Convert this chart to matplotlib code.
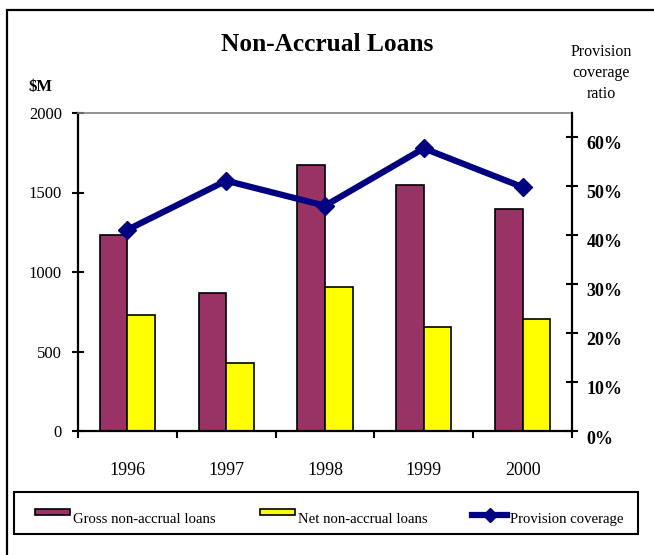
import matplotlib
matplotlib.use("Agg")
import matplotlib.pyplot as plt
from matplotlib.patches import Rectangle, Patch
from matplotlib.lines import Line2D
from matplotlib.legend_handler import HandlerPatch, HandlerLine2D
from matplotlib.ticker import FuncFormatter, FixedLocator
from matplotlib.transforms import ScaledTranslation
import numpy as np

years = ["1996", "1997", "1998", "1999", "2000"]
gross_loans = [1235, 870, 1675, 1547, 1398]
net_loans = [731, 430, 906, 656, 706]
coverage_pct = [41.0, 51.0, 45.9, 57.6, 49.7]

gross_color = "#993366"
net_color = "#FFFF00"
line_color = "#000080"

plt.rcParams["font.family"] = ["Liberation Serif", "DejaVu Serif"]

W, H = 654, 555
fig = plt.figure(figsize=(W / 100, H / 100), dpi=100)


def px(v):
    return v / W


def py(v):
    return 1 - v / H


# outer frame of the chart area
fig.patches.append(Rectangle((px(7), -0.2), 1.5, 1.2 - 10 / H, transform=fig.transFigure,
                             fill=False, edgecolor="black", linewidth=1.6))

ax = fig.add_axes([px(78), py(431), (572 - 78) / W, (431 - 113) / H])
x = np.arange(len(years))
bw = 0.28
ax.bar(x - bw / 2, gross_loans, bw, color=gross_color, edgecolor="black", linewidth=1.2, zorder=2)
ax.bar(x + bw / 2, net_loans, bw, color=net_color, edgecolor="black", linewidth=1.2, zorder=2)

ax.set_xlim(-0.5, len(years) - 0.5)
ax.set_ylim(0, 2000)
ax.set_yticks([0, 500, 1000, 1500, 2000])
ax.tick_params(axis="y", direction="inout", length=9, width=1.5, labelsize=12, pad=7)
ax.xaxis.set_major_locator(FixedLocator(np.arange(-0.5, len(years), 1.0)))
ax.xaxis.set_major_formatter(FuncFormatter(lambda v, p: ""))
ax.xaxis.set_minor_locator(FixedLocator(x))
ax.set_xticklabels(years, minor=True)
ax.tick_params(axis="x", which="major", direction="out", length=5, width=1.5)
ax.tick_params(axis="x", which="minor", length=0, labelsize=13, pad=22)

for s in ["left", "bottom"]:
    ax.spines[s].set_linewidth(1.6)
ax.spines["top"].set_color("#808080")
ax.spines["top"].set_linewidth(1.2)
ax.spines["right"].set_visible(False)

ax2 = ax.twinx()
ax2.plot(x, coverage_pct, color=line_color, linewidth=4.5, marker="D", markersize=9, zorder=3)
ax2.set_ylim(0, 64.8)
ax2.set_yticks([0, 10, 20, 30, 40, 50, 60])
ax2.yaxis.set_major_formatter(FuncFormatter(lambda v, p: f"{v:.0f}%"))
ax2.tick_params(axis="y", direction="inout", length=9, width=1.5, labelsize=13, pad=6)
shift_down = ScaledTranslation(0, -6 / 100, fig.dpi_scale_trans)
for t in ax2.yaxis.get_major_ticks():
    t.label2.set_fontweight("bold")
    t.label2.set_transform(t.label2.get_transform() + shift_down)
for s in ["left", "bottom", "top"]:
    ax2.spines[s].set_visible(False)
ax2.spines["right"].set_linewidth(1.6)

fig.text(px(327), py(51), "Non-Accrual Loans", ha="center", va="baseline",
         fontsize=18.3, fontweight="bold")
fig.text(px(40), py(90.5), "$M", ha="center", va="baseline", fontsize=12, fontweight="bold")
fig.text(px(601), py(73), "Provision\ncoverage\nratio", ha="center", va="center",
         fontsize=11.5, linespacing=1.45)

# legend: keys sit above the label baseline, inside a plain box
key_bottom, key_height, key_mid = 6.1, 4.3, 8.3


def thin_key(legend, orig_handle, xdescent, ydescent, width, height, fontsize):
    return Rectangle((-xdescent, key_bottom), width, key_height)


class RaisedLine(HandlerLine2D):
    def create_artists(self, legend, orig_handle, xdescent, ydescent, width, height,
                       fontsize, trans):
        return super().create_artists(legend, orig_handle, xdescent, height / 2 - key_mid,
                                      width, height, fontsize, trans)


gross_h = Patch(facecolor=gross_color, edgecolor="black", linewidth=1.2)
net_h = Patch(facecolor=net_color, edgecolor="black", linewidth=1.2)
cov_h = Line2D([], [], color=line_color, linewidth=4.5, marker="D", markersize=7)
labels = ["Gross non-accrual loans", "Net non-accrual loans", "Provision coverage"]
leg = fig.legend([gross_h, net_h, cov_h], labels, ncol=3, loc="lower left",
                 bbox_to_anchor=(px(35), py(526)), fontsize=10.6, frameon=False,
                 borderaxespad=0, borderpad=0, handlelength=2.4, handleheight=0.7,
                 handletextpad=0.2, columnspacing=3.0,
                 handler_map={Patch: HandlerPatch(patch_func=thin_key), Line2D: RaisedLine()})

fig.patches.append(Rectangle((px(14), py(534)), (638 - 14) / W, (534 - 492) / H,
                             transform=fig.transFigure, fill=False, edgecolor="black",
                             linewidth=1.5))

fig.savefig("out.png", dpi=100)
